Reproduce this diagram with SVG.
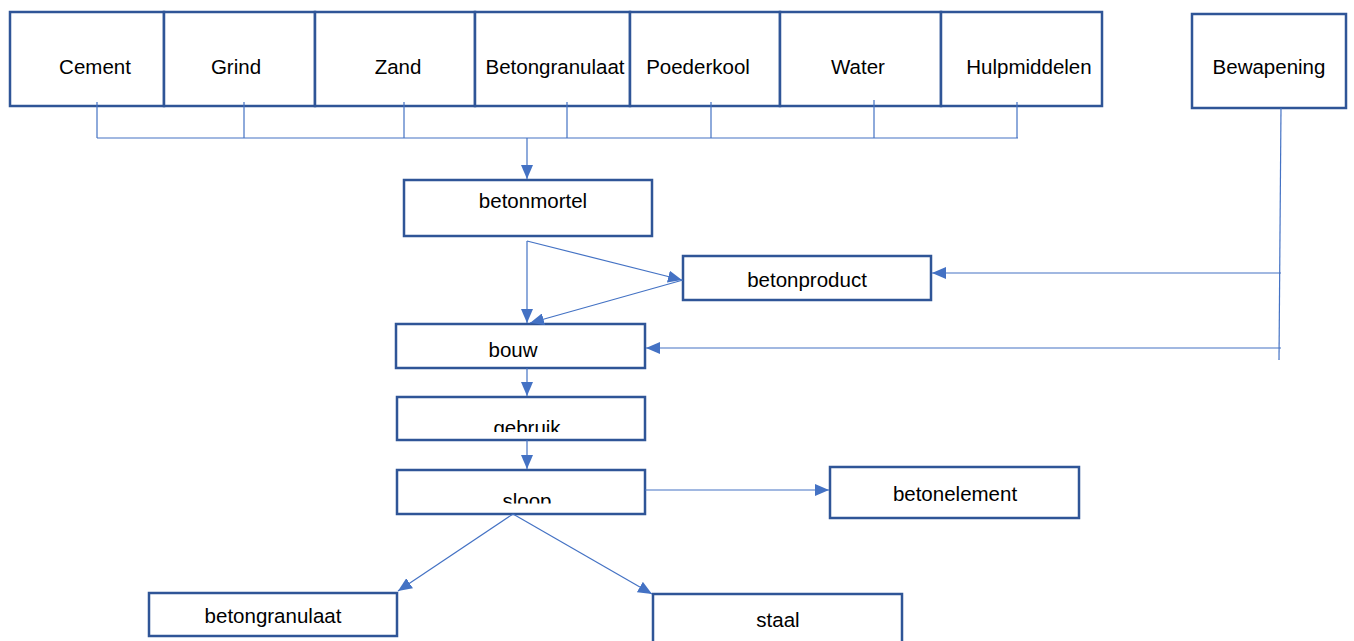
<svg xmlns="http://www.w3.org/2000/svg" width="1354" height="641" viewBox="0 0 1354 641">
<style>
.box{fill:#fff;stroke:#2F5597;stroke-width:2.5}
.t{font-family:"Liberation Sans",Arial,sans-serif;font-size:20.5px;fill:#000;text-anchor:middle}
.c{fill:none;stroke:#4472C4;stroke-width:1.2}
.a{fill:none;stroke:#4472C4;stroke-width:1.2;marker-end:url(#arr)}
</style>
<defs>
<marker id="arr" markerUnits="userSpaceOnUse" markerWidth="14" markerHeight="12" refX="14" refY="6" orient="auto">
<path d="M0,0 L14,6 L0,12 z" fill="#4472C4"/>
</marker>
<clipPath id="clipG"><rect x="397" y="397" width="248" height="35"/></clipPath>
<clipPath id="clipS"><rect x="397" y="470" width="248" height="33.5"/></clipPath>
</defs>
<g id="n-cement"><rect class="box" x="10" y="12" width="154" height="94"/><text class="t" x="95" y="74">Cement</text></g>
<g id="n-grind"><rect class="box" x="164" y="12" width="151" height="94"/><text class="t" x="236" y="74">Grind</text></g>
<g id="n-zand"><rect class="box" x="315" y="12" width="160" height="94"/><text class="t" x="398" y="74">Zand</text></g>
<g id="n-betongranulaat-in"><rect class="box" x="475" y="12" width="155" height="94"/><text class="t" x="555" y="74">Betongranulaat</text></g>
<g id="n-poederkool"><rect class="box" x="630" y="12" width="150" height="94"/><text class="t" x="698" y="74">Poederkool</text></g>
<g id="n-water"><rect class="box" x="780" y="12" width="161" height="94"/><text class="t" x="858" y="74">Water</text></g>
<g id="n-hulpmiddelen"><rect class="box" x="941" y="12" width="161" height="94"/><text class="t" x="1029" y="74">Hulpmiddelen</text></g>
<g id="n-bewapening"><rect class="box" x="1192" y="14" width="154" height="94"/><text class="t" x="1269" y="74">Bewapening</text></g>
<g id="n-betonmortel"><rect class="box" x="404" y="180" width="248" height="56"/><text class="t" x="533" y="208">betonmortel</text></g>
<g id="n-betonproduct"><rect class="box" x="683" y="256" width="248" height="44"/><text class="t" x="807" y="287">betonproduct</text></g>
<g id="n-bouw"><rect class="box" x="396" y="324" width="249" height="44"/><text class="t" x="513" y="357">bouw</text></g>
<g id="n-gebruik"><rect class="box" x="397" y="397" width="248" height="43"/><text class="t" x="527" y="435" clip-path="url(#clipG)">gebruik</text></g>
<g id="n-sloop"><rect class="box" x="397" y="470" width="248" height="44"/><text class="t" x="527" y="508" clip-path="url(#clipS)">sloop</text></g>
<g id="n-betonelement"><rect class="box" x="830" y="467" width="249" height="51"/><text class="t" x="955" y="501">betonelement</text></g>
<g id="n-betongranulaat-out"><rect class="box" x="149" y="593" width="248" height="43"/><text class="t" x="273" y="623">betongranulaat</text></g>
<g id="n-staal"><rect class="box" x="653" y="594" width="249" height="52"/><text class="t" x="778" y="627">staal</text></g>
<g id="connectors">
<path class="c" d="M97,102 V138 M244,102 V138 M404,102 V138 M567,102 V138 M711,102 V138 M874,100 V138 M1017,102 V138 M97,138 H1018"/>
<line class="a" x1="527" y1="138" x2="527" y2="179"/>
<line class="a" x1="527" y1="241" x2="527" y2="323"/>
<line class="a" x1="527" y1="241" x2="682" y2="280"/>
<line class="a" x1="683" y1="280" x2="530" y2="323"/>
<line class="c" x1="1281" y1="108" x2="1279" y2="360"/>
<line class="a" x1="1281" y1="273" x2="932" y2="273"/>
<line class="a" x1="1281" y1="348" x2="646" y2="348"/>
<line class="a" x1="527" y1="368" x2="527" y2="396"/>
<line class="a" x1="527" y1="440" x2="527" y2="469"/>
<line class="a" x1="645" y1="490" x2="829" y2="490"/>
<line class="a" x1="513" y1="514" x2="398" y2="591"/>
<line class="a" x1="513" y1="514" x2="652" y2="594"/>
</g>
</svg>
